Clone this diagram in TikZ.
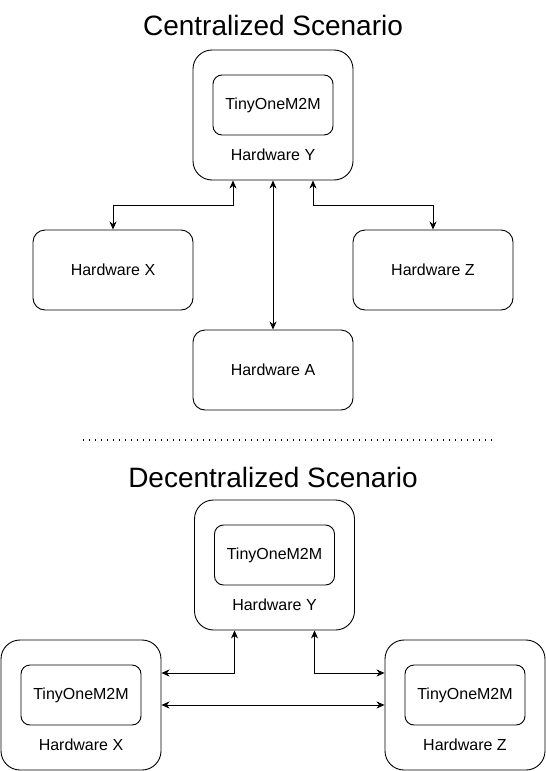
\documentclass[tikz,border=0pt]{standalone}
\usepackage{fontspec}
\setmainfont{Liberation Sans}
\usetikzlibrary{positioning, arrows.meta, calc}

\tikzset{
    hwbox/.style={
        draw,
        line width=0.9pt,
        rounded corners=19pt,
        minimum width=160pt,
        minimum height=130pt
    },
    hwsmall/.style={
        draw,
        line width=0.9pt,
        rounded corners=12pt,
        minimum width=160pt,
        minimum height=80pt,
        font=\fontsize{16}{19}\selectfont
    },
    corebox/.style={
        draw,
        line width=0.9pt,
        rounded corners=9pt,
        minimum width=120pt,
        minimum height=60pt,
        font=\fontsize{16}{19}\selectfont
    },
    hwlabel/.style={
        font=\fontsize{16}{19}\selectfont
    },
    scenario/.style={
        font=\fontsize{28}{34}\selectfont
    },
    biarrow/.style={
        {Stealth[length=8pt, width=7pt, inset=2.5pt]}-{Stealth[length=8pt, width=7pt, inset=2.5pt]},
        line width=0.9pt
    }
}

\begin{document}
\begin{tikzpicture}[x=1pt, y=-1pt]
        \useasboundingbox (0,0) rectangle (546,771);

        % centralized
        \node[scenario] (ctitle) at (273,25) {Centralized Scenario};
        \node[hwbox] (Yc) at (273,115) {};
        \node[corebox] (Ycore) at ([yshift=10pt]Yc.center) {TinyOneM2M};
        \node[hwlabel] (Ylbl) at ([yshift=-40pt]Yc.center) {Hardware Y};
        \node[hwsmall] (Xc) at (113,270) {Hardware X};
        \node[hwsmall] (Zc) at (433,270) {Hardware Z};
        \node[hwsmall] (Ac) at (273,370) {Hardware A};

        \draw[biarrow] ([xshift=-40pt]Yc.south) -- ++(0,25) -| (Xc.north);
        \draw[biarrow] ([xshift=40pt]Yc.south) -- ++(0,25) -| (Zc.north);
        \draw[biarrow] (Yc.south) -- (Ac.north);

        % separator
        \coordinate (sepL) at (83,440);
        \coordinate (sepR) at (494,440);
        \draw[line width=1.4pt, dash pattern=on 1.4pt off 4.6pt] (sepL) -- (sepR);

        % decentralized
        \node[scenario] (dtitle) at (273,477) {Decentralized Scenario};
        \node[hwbox] (Yd) at (274.5,565) {};
        \node[corebox] (Ydcore) at ([yshift=10pt]Yd.center) {TinyOneM2M};
        \node[hwlabel] (Ydlbl) at ([yshift=-40pt]Yd.center) {Hardware Y};
        \node[hwbox] (Xd) at (81,705) {};
        \node[corebox] (Xdcore) at ([yshift=10pt]Xd.center) {TinyOneM2M};
        \node[hwlabel] (Xdlbl) at ([yshift=-40pt]Xd.center) {Hardware X};
        \node[hwbox] (Zd) at (465,705) {};
        \node[corebox] (Zdcore) at ([yshift=10pt]Zd.center) {TinyOneM2M};
        \node[hwlabel] (Zdlbl) at ([yshift=-40pt]Zd.center) {Hardware Z};

        \draw[biarrow] ([xshift=-40pt]Yd.south) |- ([yshift=32pt]Xd.east);
        \draw[biarrow] ([xshift=40pt]Yd.south) |- ([yshift=32pt]Zd.west);
        \draw[biarrow] (Xd.east) -- (Zd.west);
    \end{tikzpicture}
\end{document}
